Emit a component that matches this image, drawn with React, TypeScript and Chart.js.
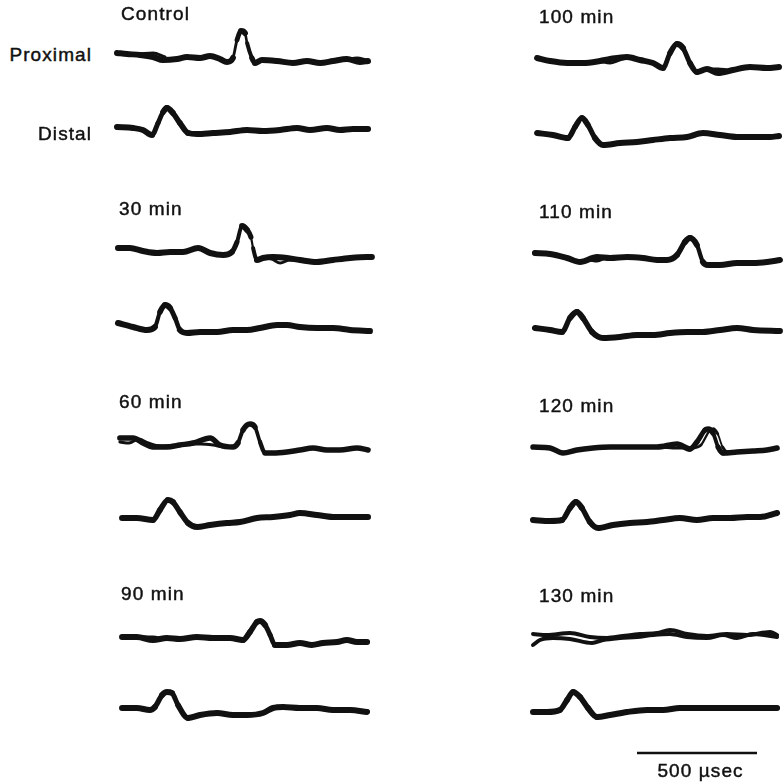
import React, { useEffect, useRef } from "react";
import { Chart, registerables } from "chart.js";

Chart.register(...registerables);

type Pt = [number, number]; // [time in µs, deflection in a.u. (positive = up)]

// ---------- labels ----------
const panelLabels = ["Control", "30 min", "60 min", "90 min", "100 min", "110 min", "120 min", "130 min"];
const siteLabels = ["Proximal", "Distal"];
const scaleBarValue = 500; // µs
const scaleBarLabel = "500 \u00b5sec";

// ---------- traces (time µs, deflection) ----------
const controlProximal: Pt[] = [[0,7],[42,6],[96,5],[150,3],[192,0],[250,1],[292,3],[346,2],[388,4],[429,1],[458,-2],[483,2],[500,20],[517,29],[533,27],[542,17],[562,2],[575,-3],[604,0],[667,-1],[733,-3],[792,-1],[846,-3],[900,-1],[958,1],[1012,-2],[1046,-1]];
const controlProximalB: Pt[] = [[96,6],[150,7],[200,3]];
const controlProximalC: Pt[] = [[958,0],[1000,2],[1040,0]];
const controlDistal: Pt[] = [[0,3],[67,2],[108,0],[146,-5],[171,7],[192,18],[208,22],[233,17],[262,7],[296,-3],[333,-4],[400,-3],[471,-2],[542,0],[608,-1],[679,0],[750,2],[804,0],[875,2],[929,0],[983,1],[1046,1]];

const min30Proximal: Pt[] = [[4,6],[54,6],[108,3],[167,1],[221,2],[275,2],[338,6],[388,1],[442,-1],[479,2],[500,12],[521,28],[542,24],[558,17],[567,6],[583,-6],[608,-4],[650,-3],[708,-4],[762,-6],[833,-8],[900,-6],[971,-4],[1042,-3],[1062,-3]];
const min30ProximalB: Pt[] = [[608,-4],[645,-5],[680,-9],[720,-6],[762,-6]];
const min30Distal: Pt[] = [[4,5],[67,1],[125,-2],[158,1],[179,16],[200,23],[221,20],[242,10],[262,-2],[292,-5],[346,-4],[417,-4],[483,-2],[542,-2],[596,0],[667,3],[708,3],[762,1],[833,0],[900,0],[971,-2],[1054,-3]];

const min60Proximal: Pt[] = [[12,8],[67,8],[108,3],[150,-1],[208,-1],[262,1],[317,3],[388,8],[429,1],[483,-1],[504,3],[525,16],[554,22],[575,19],[596,4],[617,-7],[650,-7],[708,-6],[762,-4],[817,-2],[875,-4],[929,-4],[1000,-2],[1046,-4]];
const min60ProximalB: Pt[] = [[12,4],[50,3],[90,7],[130,3],[180,0],[240,1],[300,2],[350,2],[400,1],[450,-1],[490,0]];
const min60Distal: Pt[] = [[21,0],[83,0],[150,-2],[179,8],[212,18],[233,16],[262,6],[296,-5],[333,-9],[388,-7],[458,-5],[512,-4],[583,0],[650,1],[721,3],[762,5],[833,3],[900,1],[971,1],[1046,1]];

const min90Proximal: Pt[] = [[21,3],[83,3],[150,0],[208,2],[262,1],[333,3],[400,2],[471,2],[525,0],[554,8],[583,18],[596,19],[617,15],[638,5],[658,-5],[708,-5],[762,-3],[812,-5],[858,-3],[917,-2],[958,0],[1000,-2],[1042,-2]];
const min90ProximalB: Pt[] = [[110,3],[150,3],[190,1]];
const min90Distal: Pt[] = [[21,2],[83,2],[137,0],[158,3],[188,15],[208,18],[229,17],[254,5],[296,-8],[346,-5],[417,-3],[483,-5],[542,-5],[608,-3],[650,2],[692,3],[762,2],[833,2],[900,0],[971,0],[1042,-2]];

const min100Proximal: Pt[] = [[17,6],[71,3],[142,1],[208,1],[279,3],[321,5],[392,7],[446,4],[500,1],[542,-4],[571,11],[600,20],[625,16],[654,1],[683,-8],[725,-5],[771,-9],[833,-6],[904,-3],[975,-4],[1025,-3]];
const min100ProximalB: Pt[] = [[279,3],[321,1],[360,4],[392,6]];
const min100ProximalC: Pt[] = [[725,-5],[771,-5],[810,-6]];
const min100Distal: Pt[] = [[17,3],[83,1],[146,-2],[175,9],[204,18],[229,11],[258,-2],[292,-9],[362,-7],[433,-6],[500,-4],[571,-2],[642,-1],[708,3],[779,1],[850,-1],[917,-1],[988,-1],[1025,0]];

const min110Proximal: Pt[] = [[8,7],[71,6],[142,2],[196,-2],[267,3],[321,2],[392,3],[458,2],[517,0],[558,0],[600,5],[633,18],[654,22],[683,15],[708,-2],[729,-5],[779,-5],[850,-3],[917,-3],[975,-2],[1029,0]];
const min110ProximalB: Pt[] = [[196,-2],[230,0],[267,-1],[300,2]];
const min110Distal: Pt[] = [[8,4],[71,2],[121,0],[154,14],[183,20],[208,14],[246,0],[292,-6],[362,-5],[433,-3],[500,-3],[571,-1],[642,0],[708,0],[779,2],[850,4],[917,2],[1029,1]];

const min120Proximal: Pt[] = [[0,1],[71,0],[125,-5],[183,-2],[250,0],[321,1],[392,1],[458,1],[517,1],[600,4],[654,-1],[683,6],[717,18],[729,19],[750,15],[771,1],[792,-5],[850,-4],[917,-3],[975,-2],[1017,0]];
const min120ProximalB: Pt[] = [[540,1],[600,0],[660,0],[700,3],[735,17],[752,19],[770,14],[790,1],[812,-4],[850,-4]];
const min120Distal: Pt[] = [[0,0],[71,-1],[121,0],[154,12],[179,18],[204,12],[237,-2],[271,-8],[333,-5],[404,-3],[475,-2],[542,0],[612,2],[683,0],[750,2],[821,2],[892,3],[946,3],[1017,7]];

const min130ProximalA: Pt[] = [[0,4],[58,3],[154,5],[237,1],[308,0],[375,2],[446,4],[517,5],[571,8],[642,4],[725,2],[808,4],[892,3],[988,6],[1017,3]];
const min130ProximalB: Pt[] = [[0,-7],[29,-2],[83,0],[154,-1],[246,-5],[292,-2],[362,0],[433,1],[500,3],[571,4],[642,1],[725,0],[792,3],[850,0],[917,4],[1017,1]];
const min130Distal: Pt[] = [[0,-2],[58,-2],[112,0],[142,10],[167,18],[196,13],[229,2],[267,-7],[321,-5],[392,-2],[475,0],[542,0],[612,2],[683,2],[750,2],[821,2],[892,2],[1017,2]];

// ---------- layout / style ----------
const INK = "#111111";
const FONT = '"Liberation Sans", Arial, Helvetica, sans-serif';
const PX_PER_US = 120 / 500; // horizontal time scale of the figure
const CANVAS_H = 80;
const V_RANGE = 40;
const COLS = [
  { originX: 117, left: 109, width: 272 },
  { originX: 533, left: 525, width: 258 },
];

type TraceDef = { sweeps: Pt[][]; widths: number[]; col: number; refY: number };
const traceDefs: TraceDef[] = [
  { sweeps: [controlProximal, controlProximalB, controlProximalC], widths: [6, 3, 3], col: 0, refY: 60 },
  { sweeps: [controlDistal], widths: [6], col: 0, refY: 130 },
  { sweeps: [min30Proximal, min30ProximalB], widths: [6, 3], col: 0, refY: 254 },
  { sweeps: [min30Distal], widths: [6], col: 0, refY: 328 },
  { sweeps: [min60Proximal, min60ProximalB], widths: [5.5, 3], col: 0, refY: 446 },
  { sweeps: [min60Distal], widths: [6], col: 0, refY: 518 },
  { sweeps: [min90Proximal, min90ProximalB], widths: [6, 3], col: 0, refY: 640 },
  { sweeps: [min90Distal], widths: [6], col: 0, refY: 710 },
  { sweeps: [min100Proximal, min100ProximalB, min100ProximalC], widths: [6, 3, 3], col: 1, refY: 64 },
  { sweeps: [min100Distal], widths: [6], col: 1, refY: 136 },
  { sweeps: [min110Proximal, min110ProximalB], widths: [6, 3], col: 1, refY: 260 },
  { sweeps: [min110Distal], widths: [6], col: 1, refY: 332 },
  { sweeps: [min120Proximal, min120ProximalB], widths: [5.5, 3], col: 1, refY: 448 },
  { sweeps: [min120Distal], widths: [6], col: 1, refY: 520 },
  { sweeps: [min130ProximalA, min130ProximalB], widths: [4, 4], col: 1, refY: 638 },
  { sweeps: [min130Distal], widths: [6], col: 1, refY: 710 },
];

const labelPos = [
  { left: 121, base: 20 }, { left: 119, base: 215 }, { left: 119, base: 408 }, { left: 121, base: 600 },
  { left: 539, base: 23 }, { left: 539, base: 218 }, { left: 539, base: 412 }, { left: 539, base: 602 },
];
const sitePos = [{ right: 91, base: 61 }, { right: 91, base: 140 }];

function TraceChart({ def }: { def: TraceDef }) {
  const ref = useRef<HTMLCanvasElement>(null);
  const col = COLS[def.col];
  const top = def.refY - CANVAS_H / 2;
  useEffect(() => {
    const canvas = ref.current!;
    const xmin = (col.left - col.originX) / PX_PER_US;
    const xmax = (col.left + col.width - col.originX) / PX_PER_US;
    const chart = new Chart(canvas, {
      type: "line",
      data: {
        datasets: def.sweeps.map((s, i) => {
          const base = def.widths[i];
          return {
            data: s.map(([x, y]) => ({ x, y })),
            borderColor: INK,
            borderWidth: base,
            cubicInterpolationMode: "monotone",
            pointRadius: 0,
            fill: false,
            borderCapStyle: "round",
            borderJoinStyle: "round",
            clip: false,
            segment: {
              borderWidth: (ctx: any) => {
                const dx = Math.abs(ctx.p1.x - ctx.p0.x) || 0.001;
                const slope = Math.abs(ctx.p1.y - ctx.p0.y) / dx;
                return Math.max(1.8, base - Math.max(0, slope - 0.9) * 0.9);
              },
            },
          } as any;
        }),
      },
      options: {
        responsive: false,
        animation: false,
        devicePixelRatio: 1,
        events: [],
        layout: { padding: 0 },
        scales: {
          x: { type: "linear", display: false, min: xmin, max: xmax },
          y: { type: "linear", display: false, min: -V_RANGE, max: V_RANGE },
        },
        plugins: { legend: { display: false }, tooltip: { enabled: false } },
      },
    });
    return () => chart.destroy();
  }, []);
  return (
    <canvas
      ref={ref}
      width={col.width}
      height={CANVAS_H}
      style={{ position: "absolute", left: col.left, top, width: col.width, height: CANVAS_H }}
    />
  );
}

function ScaleBar() {
  const ref = useRef<HTMLCanvasElement>(null);
  const left = 630, width = 136, top = 748, height = 10, originX = 637;
  useEffect(() => {
    const chart = new Chart(ref.current!, {
      type: "line",
      data: {
        datasets: [
          {
            data: [{ x: 0, y: 0 }, { x: scaleBarValue, y: 0 }],
            borderColor: INK,
            borderWidth: 2.5,
            borderCapStyle: "butt",
            pointRadius: 0,
            clip: false,
          } as any,
        ],
      },
      options: {
        responsive: false,
        animation: false,
        devicePixelRatio: 1,
        events: [],
        layout: { padding: 0 },
        scales: {
          x: { type: "linear", display: false, min: (left - originX) / PX_PER_US, max: (left + width - originX) / PX_PER_US },
          y: { type: "linear", display: false, min: -5, max: 5 },
        },
        plugins: { legend: { display: false }, tooltip: { enabled: false } },
      },
    });
    return () => chart.destroy();
  }, []);
  return <canvas ref={ref} width={width} height={height} style={{ position: "absolute", left, top, width, height }} />;
}

const textStyle: React.CSSProperties = {
  position: "absolute",
  font: `19px ${FONT}`,
  lineHeight: "19px",
  letterSpacing: "1.1px",
  color: INK,
  whiteSpace: "nowrap",
  WebkitTextStroke: `0.45px ${INK}`,
};

export default function App() {
  return (
    <div style={{ position: "absolute", left: 0, top: 0, width: 783, height: 782, overflow: "hidden", background: "#fff" }}>
      {traceDefs.map((d, i) => (
        <TraceChart key={i} def={d} />
      ))}
      {panelLabels.map((t, i) => (
        <div key={t} style={{ ...textStyle, left: labelPos[i].left, top: labelPos[i].base - 16 }}>
          {t}
        </div>
      ))}
      {siteLabels.map((t, i) => (
        <div
          key={t}
          style={{ ...textStyle, left: 0, width: sitePos[i].right + 1.1, textAlign: "right", top: sitePos[i].base - 16 }}
        >
          {t}
        </div>
      ))}
      <ScaleBar />
      <div style={{ ...textStyle, left: 600, width: 200, textAlign: "center", top: 777 - 16, textIndent: "1.1px" }}>
        {scaleBarLabel}
      </div>
    </div>
  );
}
